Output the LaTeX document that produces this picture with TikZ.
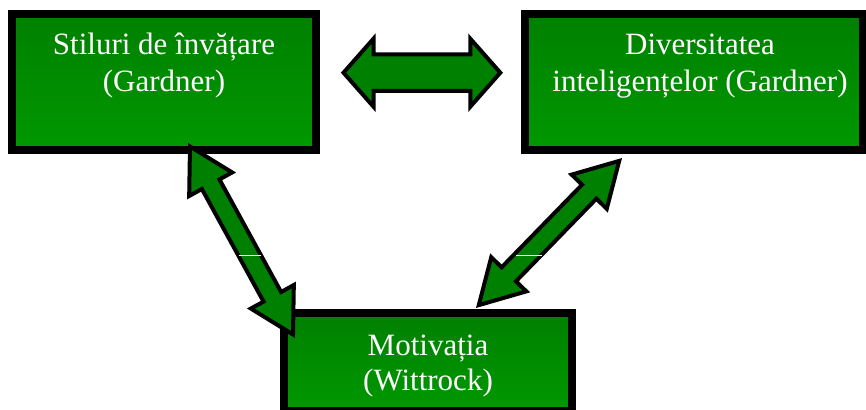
\documentclass[tikz,border=0pt]{standalone}
\usepackage{fontspec}
\setmainfont{Liberation Serif}
\usetikzlibrary{calc}
\definecolor{gtop}{RGB}{0,128,0}
\definecolor{gbot}{RGB}{0,152,0}
\definecolor{afill}{RGB}{0,128,0}
\tikzset{
  box/.style={draw=black, line width=8pt, top color=gtop, bottom color=gbot, inner sep=0pt},
  txt/.style={text=white, align=center, inner sep=0pt, font=\fontsize{31}{36.5}\selectfont},
  txtb/.style={text=white, align=center, inner sep=0pt, font=\fontsize{31}{35}\selectfont},
  blockarrow/.style={draw=black, fill=afill, line width=4pt, line join=miter, miter limit=20},
  artifact/.style={draw=white, line width=1pt}
}
\newcommand\blockdbl[5]{%
  \draw[blockarrow] (#1)
    -- ($(#1)!#3!(#2)!#4!90:(#2)$)
    -- ($(#1)!#3!(#2)!#5!90:(#2)$)
    -- ($(#2)!#3!(#1)!#5!-90:(#1)$)
    -- ($(#2)!#3!(#1)!#4!-90:(#1)$)
    -- (#2)
    -- ($(#2)!#3!(#1)!#4!90:(#1)$)
    -- ($(#2)!#3!(#1)!#5!90:(#1)$)
    -- ($(#1)!#3!(#2)!#5!-90:(#2)$)
    -- ($(#1)!#3!(#2)!#4!-90:(#2)$)
    -- cycle;}
\begin{document}
\begin{tikzpicture}[x=1pt,y=-1pt]
\useasboundingbox (0,0) rectangle (866,409);
% boxes
\node[box, minimum width=304pt, minimum height=136pt] (b1) at (164,82) {};
\node[box, minimum width=338.5pt, minimum height=136pt] (b2) at (693.75,82) {};
\node[box, minimum width=288pt, minimum height=97.5pt] (b3) at (428,361.75) {};
% texts (base = last line's baseline)
\node[txt, anchor=base] (t1) at (164,91.5) {Stiluri de învățare\\(Gardner)};
\node[txt, anchor=base] (t2) at (700,91.5) {Diversitatea\\inteligențelor (Gardner)};
\node[txtb, anchor=base] (t3) at (428,390) {Motivația\\(Wittrock)};
% arrow tips
\coordinate (hL) at (343.5,72.7);
\coordinate (hR) at (500.3,72.7);
\coordinate (dLa) at (190,146.5);
\coordinate (dLb) at (293,334.5);
\coordinate (dRa) at (619.2,160.9);
\coordinate (dRb) at (478.8,305.1);
\blockdbl{hL}{hR}{30pt}{34pt}{18.3pt}
\blockdbl{dLa}{dLb}{43pt}{24.5pt}{10pt}
\blockdbl{dRa}{dRb}{43pt}{24.5pt}{10pt}
% small white marks
\coordinate (wl1) at (238.5,255); \coordinate (wl2) at (260.5,255);
\coordinate (wr1) at (516,255); \coordinate (wr2) at (541.5,255);
\draw[artifact] (wl1) -- (wl2);
\draw[artifact] (wr1) -- (wr2);
\end{tikzpicture}
\end{document}
